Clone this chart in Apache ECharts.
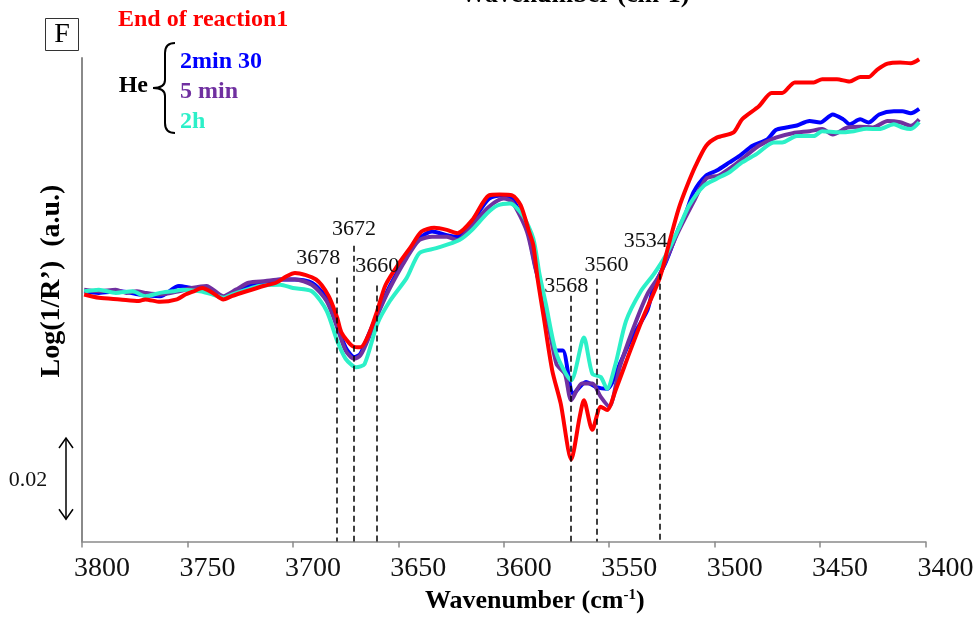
<!DOCTYPE html>
<html>
<head>
<meta charset="utf-8">
<script src="https://cdn.jsdelivr.net/npm/echarts@6/dist/echarts.min.js"></script>
<style>html,body{margin:0;padding:0;background:#fff;}#c{width:978px;height:619px;}</style>
</head>
<body>
<div id="c"></div>
<script>
// ---------- DATA ----------
const xTicks = [3800, 3750, 3700, 3650, 3600, 3550, 3500, 3450, 3400];
const seriesNames = ['End of reaction1', '2min 30', '5 min', '2h'];
// [wavenumber (cm-1), Log(1/R') (a.u.)]
const endOfReaction = [[3799,0.0608],[3792,0.0600],[3782,0.0596],[3773,0.0592],[3770,0.0596],[3763,0.0590],[3755,0.0596],[3751,0.0608],[3747,0.0616],[3743,0.0624],[3738,0.0612],[3733,0.0596],[3729,0.0604],[3722,0.0616],[3714,0.0629],[3708,0.0637],[3703,0.0653],[3699,0.0661],[3689,0.0645],[3683,0.0604],[3679,0.0551],[3677,0.0515],[3672,0.0482],[3668,0.0478],[3664,0.0510],[3660,0.0568],[3656,0.0632],[3649,0.0690],[3644,0.0726],[3639,0.0763],[3633,0.0772],[3627,0.0767],[3622,0.0759],[3615,0.0791],[3607,0.0852],[3602,0.0854],[3596,0.0852],[3592,0.0828],[3588,0.0763],[3586,0.0730],[3584,0.0649],[3581,0.0551],[3577,0.0421],[3573,0.0340],[3568,0.0202],[3564,0.0307],[3562,0.0348],[3558,0.0275],[3554,0.0332],[3551,0.0324],[3547,0.0372],[3540,0.0470],[3534,0.0551],[3526,0.0649],[3521,0.0746],[3517,0.0820],[3513,0.0876],[3509,0.0925],[3504,0.0974],[3499,0.0994],[3491,0.1007],[3487,0.1039],[3479,0.1071],[3473,0.1104],[3468,0.1104],[3462,0.1130],[3453,0.1130],[3449,0.1138],[3442,0.1138],[3436,0.1132],[3431,0.1143],[3427,0.1143],[3423,0.1161],[3418,0.1176],[3412,0.1179],[3407,0.1177],[3403,0.1187]];
const he2min30 = [[3799,0.0616],[3792,0.0612],[3782,0.0616],[3773,0.0608],[3763,0.0604],[3754,0.0629],[3748,0.0624],[3741,0.0620],[3733,0.0600],[3727,0.0616],[3721,0.0629],[3713,0.0637],[3706,0.0645],[3699,0.0645],[3691,0.0637],[3684,0.0600],[3679,0.0531],[3675,0.0478],[3671,0.0454],[3668,0.0462],[3664,0.0510],[3659,0.0571],[3654,0.0629],[3646,0.0702],[3640,0.0746],[3634,0.0763],[3627,0.0754],[3622,0.0750],[3615,0.0787],[3607,0.0844],[3600,0.0852],[3596,0.0844],[3589,0.0771],[3585,0.0677],[3580,0.0568],[3575,0.0470],[3572,0.0470],[3567,0.0364],[3561,0.0393],[3556,0.0380],[3551,0.0376],[3545,0.0437],[3540,0.0494],[3532,0.0568],[3529,0.0624],[3523,0.0690],[3517,0.0771],[3514,0.0803],[3510,0.0860],[3504,0.0901],[3499,0.0913],[3493,0.0933],[3488,0.0950],[3482,0.0974],[3475,0.0990],[3471,0.1013],[3466,0.1019],[3461,0.1024],[3455,0.1035],[3450,0.1031],[3444,0.1051],[3439,0.1039],[3436,0.1027],[3431,0.1039],[3427,0.1031],[3422,0.1051],[3415,0.1059],[3411,0.1059],[3407,0.1054],[3403,0.1065]];
const he5min = [[3799,0.0620],[3792,0.0616],[3784,0.0620],[3779,0.0612],[3774,0.0616],[3770,0.0612],[3763,0.0608],[3754,0.0616],[3748,0.0624],[3741,0.0629],[3733,0.0604],[3727,0.0620],[3721,0.0637],[3713,0.0641],[3706,0.0645],[3699,0.0645],[3691,0.0632],[3684,0.0592],[3679,0.0527],[3675,0.0470],[3671,0.0450],[3668,0.0458],[3664,0.0502],[3659,0.0568],[3654,0.0624],[3646,0.0698],[3640,0.0742],[3634,0.0750],[3627,0.0750],[3622,0.0742],[3615,0.0779],[3607,0.0824],[3600,0.0844],[3596,0.0836],[3589,0.0763],[3585,0.0673],[3580,0.0568],[3575,0.0437],[3571,0.0413],[3568,0.0348],[3563,0.0389],[3558,0.0389],[3554,0.0356],[3550,0.0332],[3545,0.0429],[3539,0.0519],[3532,0.0608],[3526,0.0657],[3518,0.0754],[3510,0.0836],[3504,0.0893],[3498,0.0901],[3491,0.0925],[3485,0.0950],[3479,0.0974],[3471,0.0994],[3463,0.1005],[3455,0.1010],[3449,0.1015],[3444,0.1002],[3437,0.1019],[3431,0.1021],[3425,0.1019],[3418,0.1035],[3412,0.1032],[3407,0.1023],[3403,0.1039]];
const he2h = [[3799,0.0616],[3792,0.0620],[3784,0.0612],[3776,0.0616],[3770,0.0604],[3763,0.0612],[3757,0.0616],[3752,0.0620],[3744,0.0616],[3738,0.0608],[3733,0.0600],[3729,0.0608],[3722,0.0620],[3716,0.0629],[3706,0.0632],[3700,0.0624],[3691,0.0616],[3684,0.0568],[3679,0.0494],[3675,0.0450],[3670,0.0429],[3666,0.0437],[3660,0.0535],[3654,0.0592],[3646,0.0649],[3640,0.0710],[3632,0.0722],[3621,0.0742],[3615,0.0767],[3608,0.0807],[3603,0.0827],[3597,0.0832],[3591,0.0803],[3586,0.0746],[3583,0.0657],[3580,0.0584],[3575,0.0462],[3568,0.0397],[3562,0.0502],[3558,0.0413],[3554,0.0405],[3551,0.0376],[3547,0.0437],[3542,0.0543],[3535,0.0616],[3529,0.0657],[3523,0.0706],[3517,0.0771],[3512,0.0828],[3505,0.0876],[3499,0.0893],[3493,0.0909],[3487,0.0933],[3480,0.0954],[3472,0.0982],[3468,0.0982],[3461,0.0998],[3453,0.0998],[3449,0.1010],[3441,0.1007],[3434,0.1010],[3428,0.1016],[3422,0.1015],[3415,0.1027],[3411,0.1019],[3407,0.1015],[3403,0.1032]];
// annotation (dashed) lines
const peakLabels = ['3678', '3672', '3660', '3568', '3560', '3534'];
const peakLinePos = [3679, 3671, 3660, 3568, 3556, 3526];
const peakLineTop = [0.0650, 0.0728, 0.0630, 0.0605, 0.0647, 0.0659];
const scaleBarValue = 0.02;

// ---------- LAYOUT / STYLE ----------
const colors = { red: '#FF0000', blue: '#0000FF', purple: '#7030A0', cyan: '#2CF0C8' };
const serif = '"Liberation Serif","Times New Roman",serif';
const labelOffsets = [[-19, -19], [0, -17], [0, -19], [-5, -10], [10, -13], [-14, -33]];

const chart = echarts.init(document.getElementById('c'), null, { renderer: 'canvas' });

function lineSeries(name, data, color, z) {
  return {
    name: name, type: 'line', data: data, showSymbol: false, symbol: 'none',
    smooth: 0.25, z: z,
    lineStyle: { color: color, width: 4 }
  };
}

const markLineData = peakLinePos.map((p, i) => [
  { coord: [p, peakLineTop[i]] },
  { coord: [p, 0] }
]);

const option = {
  backgroundColor: '#fff',
  animation: false,
  grid: { left: 82, right: 52.5, top: 58, bottom: 73, containLabel: false },
  xAxis: {
    type: 'value', inverse: true, min: xTicks[xTicks.length - 1], max: xTicks[0], interval: 50,
    name: 'Wavenumber (cm{sup|-1})', nameLocation: 'middle', nameGap: 45,
    nameTextStyle: {
      fontFamily: serif, fontWeight: 'bold', fontSize: 26, color: '#000', padding: [0, 0, 0, 62],
      rich: { sup: { fontFamily: serif, fontWeight: 'bold', fontSize: 15, verticalAlign: 'top', color: '#000', padding: [0, 0, 12, 0] } }
    },
    axisLine: { show: true, lineStyle: { color: '#8a8a8a', width: 1.5 } },
    axisTick: { show: true, length: 6, lineStyle: { color: '#8a8a8a', width: 1.5 } },
    axisLabel: { fontFamily: serif, fontSize: 28, color: '#111', margin: 13, padding: [0, 0, 0, 40], formatter: v => String(v) },
    splitLine: { show: false }
  },
  yAxis: {
    type: 'value', min: 0, max: 0.119,
    axisLine: { show: true, lineStyle: { color: '#8a8a8a', width: 2 } },
    axisTick: { show: false }, axisLabel: { show: false }, splitLine: { show: false }
  },
  series: [
    lineSeries(seriesNames[1], he2min30, colors.blue, 2),
    lineSeries(seriesNames[2], he5min, colors.purple, 3),
    lineSeries(seriesNames[3], he2h, colors.cyan, 4),
    Object.assign(lineSeries(seriesNames[0], endOfReaction, colors.red, 5), {
      markLine: {
        silent: true, symbol: ['none', 'none'], z: 6,
        label: { show: false },
        lineStyle: { color: '#000', type: [6, 4], width: 1.5 },
        data: markLineData
      }
    })
  ]
};
chart.setOption(option);

// ---------- annotations ----------
const g = [];
peakLabels.forEach((t, i) => {
  const p = chart.convertToPixel({ gridIndex: 0 }, [peakLinePos[i], peakLineTop[i]]);
  g.push({ type: 'text', x: p[0] + labelOffsets[i][0], y: p[1] + labelOffsets[i][1], z: 20,
    style: { text: t, font: '22px ' + serif, fill: '#111', align: 'center', verticalAlign: 'middle' } });
});
// scale bar
const pa = chart.convertToPixel({ gridIndex: 0 }, [3800, 0.0055]);
const pb = chart.convertToPixel({ gridIndex: 0 }, [3800, 0.0055 + scaleBarValue]);
const bx = 66, y1 = pb[1], y2 = pa[1];
const stroke = { stroke: '#000', lineWidth: 1.5, fill: null };
g.push({ type: 'line', z: 20, shape: { x1: bx, y1: y1, x2: bx, y2: y2 }, style: stroke });
g.push({ type: 'polyline', z: 20, shape: { points: [[bx - 7, y1 + 10], [bx, y1], [bx + 7, y1 + 10]] }, style: stroke });
g.push({ type: 'polyline', z: 20, shape: { points: [[bx - 7, y2 - 10], [bx, y2], [bx + 7, y2 - 10]] }, style: stroke });
g.push({ type: 'text', x: 28, y: (y1 + y2) / 2 + 2, z: 20,
  style: { text: scaleBarValue.toFixed(2), font: '22px ' + serif, fill: '#111', align: 'center', verticalAlign: 'middle' } });
// y axis title
g.push({ type: 'text', x: 52, y: 281, rotation: Math.PI / 2, z: 20,
  style: { text: 'Log(1/R\u2019)  (a.u.)', font: 'bold 28px ' + serif, fill: '#000', align: 'center', verticalAlign: 'middle' } });
// panel letter
g.push({ type: 'rect', z: 20, shape: { x: 45.5, y: 18.5, width: 33, height: 32 }, style: { stroke: '#333', lineWidth: 1, fill: '#fff' } });
g.push({ type: 'text', x: 62, y: 35, z: 21, style: { text: 'F', font: '28px ' + serif, fill: '#000', align: 'center', verticalAlign: 'middle' } });
// legend
g.push({ type: 'text', x: 118, y: 20, z: 20, style: { text: seriesNames[0], font: 'bold 24px ' + serif, fill: colors.red, align: 'left', verticalAlign: 'middle' } });
g.push({ type: 'text', x: 148, y: 86, z: 20, style: { text: 'He', font: 'bold 24px ' + serif, fill: '#000', align: 'right', verticalAlign: 'middle' } });
const braceStroke = { stroke: '#000', lineWidth: 2, fill: null };
g.push({ type: 'bezierCurve', z: 20, shape: { x1: 175, y1: 43, cpx1: 165, cpy1: 43, x2: 165, y2: 53 }, style: braceStroke });
g.push({ type: 'line', z: 20, shape: { x1: 165, y1: 53, x2: 165, y2: 80 }, style: braceStroke });
g.push({ type: 'bezierCurve', z: 20, shape: { x1: 165, y1: 80, cpx1: 165, cpy1: 88, x2: 153, y2: 88 }, style: braceStroke });
g.push({ type: 'bezierCurve', z: 20, shape: { x1: 153, y1: 88, cpx1: 165, cpy1: 88, x2: 165, y2: 96 }, style: braceStroke });
g.push({ type: 'line', z: 20, shape: { x1: 165, y1: 96, x2: 165, y2: 123 }, style: braceStroke });
g.push({ type: 'bezierCurve', z: 20, shape: { x1: 165, y1: 123, cpx1: 165, cpy1: 133, x2: 175, y2: 133 }, style: braceStroke });
g.push({ type: 'text', x: 180, y: 62, z: 20, style: { text: seriesNames[1], font: 'bold 24px ' + serif, fill: colors.blue, align: 'left', verticalAlign: 'middle' } });
g.push({ type: 'text', x: 180, y: 92, z: 20, style: { text: seriesNames[2], font: 'bold 24px ' + serif, fill: colors.purple, align: 'left', verticalAlign: 'middle' } });
g.push({ type: 'text', x: 180, y: 122, z: 20, style: { text: seriesNames[3], font: 'bold 24px ' + serif, fill: colors.cyan, align: 'left', verticalAlign: 'middle' } });
// cut-off title at top (remnant of the panel above)
g.push({ type: 'text', x: 575, y: -5, z: 20, style: { text: 'Wavenumber (cm-1)', font: 'bold 26px ' + serif, fill: '#000', align: 'center', verticalAlign: 'middle' } });
chart.setOption({ graphic: { elements: g } });
</script>
</body>
</html>
